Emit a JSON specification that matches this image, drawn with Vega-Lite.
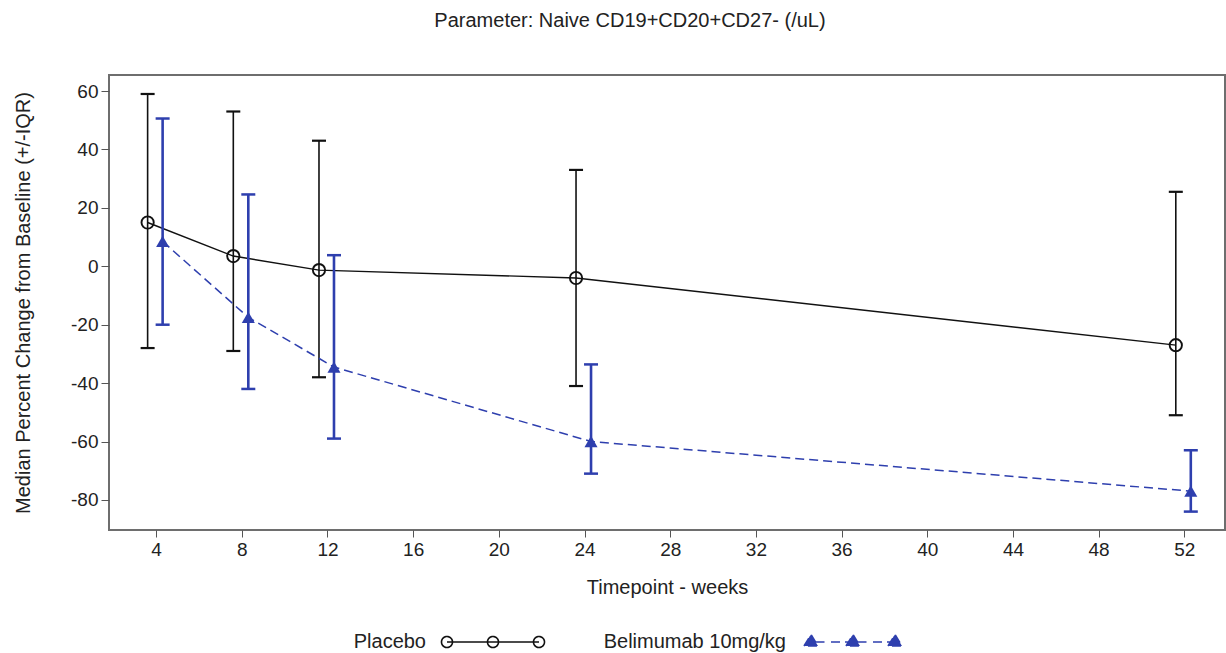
{
  "$schema": "https://vega.github.io/schema/vega-lite/v6.json",
  "width": 1116,
  "height": 455,
  "autosize": {"type": "none"},
  "padding": {"left": 109, "top": 75, "right": 1, "bottom": 123},
  "background": "white",
  "config": {
    "font": "Liberation Sans",
    "view": {"stroke": "#6e6e6e", "strokeWidth": 2}
  },
  "title": {
    "text": "Parameter: Naive CD19+CD20+CD27- (/uL)",
    "anchor": "middle",
    "dx": -37,
    "offset": 44,
    "fontSize": 20,
    "fontWeight": "normal",
    "font": "Liberation Sans",
    "color": "#222222"
  },
  "data": {
    "values": [
      {"group": "Placebo", "week": 4, "median": 15.0, "q1": -28.0, "q3": 59.0},
      {"group": "Placebo", "week": 8, "median": 3.5, "q1": -29.0, "q3": 53.0},
      {"group": "Placebo", "week": 12, "median": -1.3, "q1": -38.0, "q3": 43.0},
      {"group": "Placebo", "week": 24, "median": -4.0, "q1": -41.0, "q3": 33.0},
      {"group": "Placebo", "week": 52, "median": -27.0, "q1": -51.0, "q3": 25.5},
      {"group": "Belimumab 10mg/kg", "week": 4, "median": 8.5, "q1": -20.0, "q3": 50.6},
      {"group": "Belimumab 10mg/kg", "week": 8, "median": -17.5, "q1": -42.0, "q3": 24.6},
      {"group": "Belimumab 10mg/kg", "week": 12, "median": -34.5, "q1": -59.0, "q3": 3.8},
      {"group": "Belimumab 10mg/kg", "week": 24, "median": -60.0, "q1": -71.0, "q3": -33.6},
      {"group": "Belimumab 10mg/kg", "week": 52, "median": -77.0, "q1": -84.0, "q3": -63.0}
    ]
  },
  "encoding": {
    "x": {
      "field": "week",
      "type": "quantitative",
      "scale": {"domain": [1.8, 53.9], "nice": false, "zero": false},
      "axis": {
        "values": [4, 8, 12, 16, 20, 24, 28, 32, 36, 40, 44, 48, 52],
        "title": "Timepoint - weeks",
        "titleFontSize": 20,
        "titleFontWeight": "normal",
        "titleColor": "#222222",
        "titlePadding": 18,
        "labelFontSize": 19,
        "labelColor": "#222222",
        "labelPadding": 3,
        "tickColor": "#555555",
        "tickSize": 7,
        "domain": false,
        "grid": false
      }
    },
    "color": {
      "field": "group",
      "type": "nominal",
      "scale": {"domain": ["Placebo", "Belimumab 10mg/kg"], "range": ["#111111", "#2E3FAE"]},
      "legend": {
        "title": null,
        "orient": "none",
        "direction": "horizontal",
        "legendX": 333,
        "legendY": 516,
        "padding": 0,
        "columnPadding": 55,
        "symbolSize": 10000,
        "symbolStrokeWidth": 1.6,
        "symbolOpacity": 1,
        "symbolType": {"expr": "datum.value === 'Placebo' ? 'M-1.03,0A0.11,0.11,0,0,1,-0.81,0A0.11,0.11,0,0,1,-1.03,0A0.11,0.11,0,0,0,-0.81,0A0.11,0.11,0,0,0,-1.03,0M-0.11,0A0.11,0.11,0,0,1,0.11,0A0.11,0.11,0,0,1,-0.11,0A0.11,0.11,0,0,0,0.11,0A0.11,0.11,0,0,0,-0.11,0M0.81,0A0.11,0.11,0,0,1,1.03,0A0.11,0.11,0,0,1,0.81,0A0.11,0.11,0,0,0,1.03,0A0.11,0.11,0,0,0,0.81,0M-0.92,0L0.92,0' : 'M-0.98,0.08L-0.84,-0.15L-0.7,0.08ZM-0.96,0.05L-0.72,0.05M-0.942,0.02L-0.738,0.02M-0.924,-0.01L-0.756,-0.01M-0.906,-0.04L-0.774,-0.04M-0.888,-0.07L-0.792,-0.07M-0.87,-0.1L-0.81,-0.1M-0.14,0.08L0,-0.15L0.14,0.08ZM-0.12,0.05L0.12,0.05M-0.102,0.02L0.102,0.02M-0.084,-0.01L0.084,-0.01M-0.066,-0.04L0.066,-0.04M-0.048,-0.07L0.048,-0.07M-0.03,-0.1L0.03,-0.1M0.7,0.08L0.84,-0.15L0.98,0.08ZM0.72,0.05L0.96,0.05M0.738,0.02L0.942,0.02M0.756,-0.01L0.924,-0.01M0.774,-0.04L0.906,-0.04M0.792,-0.07L0.888,-0.07M0.81,-0.1L0.87,-0.1M-0.75,0L-0.52,0M-0.44,0L-0.09,0M0.09,0L0.32,0M0.4,0L0.75,0'"},
        "symbolStrokeColor": {"expr": "datum.value === 'Placebo' ? '#111111' : '#2E3FAE'"},
        "labelFontSize": 20,
        "labelColor": "#222222",
        "labelAlign": "right",
        "labelOffset": -118,
        "labelLimit": 400
      }
    }
  },
  "layer": [
    {
      "transform": [{"filter": "datum.group === 'Placebo'"}],
      "layer": [
        {
          "mark": {"type": "line", "strokeWidth": 1.4, "xOffset": -8.5, "opacity": 1},
          "encoding": {
            "y": {
              "field": "median",
              "type": "quantitative",
              "scale": {"domain": [-90.3, 65.5], "nice": false, "zero": false},
              "axis": {
                "values": [-80, -60, -40, -20, 0, 20, 40, 60],
                "labelExpr": "replace(datum.label, '\u2212', '-')",
                "title": "Median Percent Change from Baseline (+/-IQR)",
                "titleFontSize": 20,
                "titleFontWeight": "normal",
                "titleColor": "#222222",
                "titlePadding": 37,
                "labelFontSize": 19,
                "labelColor": "#222222",
                "labelPadding": 3,
                "tickColor": "#555555",
                "tickSize": 8,
                "domain": false,
                "grid": false
              }
            }
          }
        },
        {
          "mark": {"type": "rule", "strokeWidth": 1.6, "xOffset": -8.5, "opacity": 1},
          "encoding": {
            "y": {"field": "q1", "type": "quantitative"},
            "y2": {"field": "q3"}
          }
        },
        {
          "mark": {"type": "tick", "orient": "horizontal", "size": 14, "thickness": 2.2, "xOffset": -8.5, "opacity": 1},
          "encoding": {"y": {"field": "q1", "type": "quantitative"}}
        },
        {
          "mark": {"type": "tick", "orient": "horizontal", "size": 14, "thickness": 2.2, "xOffset": -8.5, "opacity": 1},
          "encoding": {"y": {"field": "q3", "type": "quantitative"}}
        },
        {
          "mark": {"type": "point", "shape": "circle", "filled": false, "size": 150, "strokeWidth": 1.9, "xOffset": -8.5, "opacity": 1},
          "encoding": {"y": {"field": "median", "type": "quantitative"}}
        }
      ]
    },
    {
      "transform": [{"filter": "datum.group === 'Belimumab 10mg/kg'"}],
      "layer": [
        {
          "mark": {"type": "line", "strokeWidth": 1.5, "xOffset": 6.5, "opacity": 1},
          "encoding": {
            "y": {"field": "median", "type": "quantitative"},
            "strokeDash": {
              "field": "group",
              "type": "nominal",
              "scale": {"domain": ["Placebo", "Belimumab 10mg/kg"], "range": [[1, 0], [9, 5]]},
              "legend": null
            }
          }
        },
        {
          "mark": {"type": "rule", "strokeWidth": 2.6, "xOffset": 6.5, "opacity": 1},
          "encoding": {
            "y": {"field": "q1", "type": "quantitative"},
            "y2": {"field": "q3"}
          }
        },
        {
          "mark": {"type": "tick", "orient": "horizontal", "size": 14, "thickness": 2.5, "xOffset": 6.5, "opacity": 1},
          "encoding": {"y": {"field": "q1", "type": "quantitative"}}
        },
        {
          "mark": {"type": "tick", "orient": "horizontal", "size": 14, "thickness": 2.5, "xOffset": 6.5, "opacity": 1},
          "encoding": {"y": {"field": "q3", "type": "quantitative"}}
        },
        {
          "mark": {"type": "point", "shape": "triangle-up", "filled": true, "size": 170, "strokeWidth": 1.5, "xOffset": 6.5, "opacity": 1},
          "encoding": {"y": {"field": "median", "type": "quantitative"}}
        }
      ]
    }
  ]
}
